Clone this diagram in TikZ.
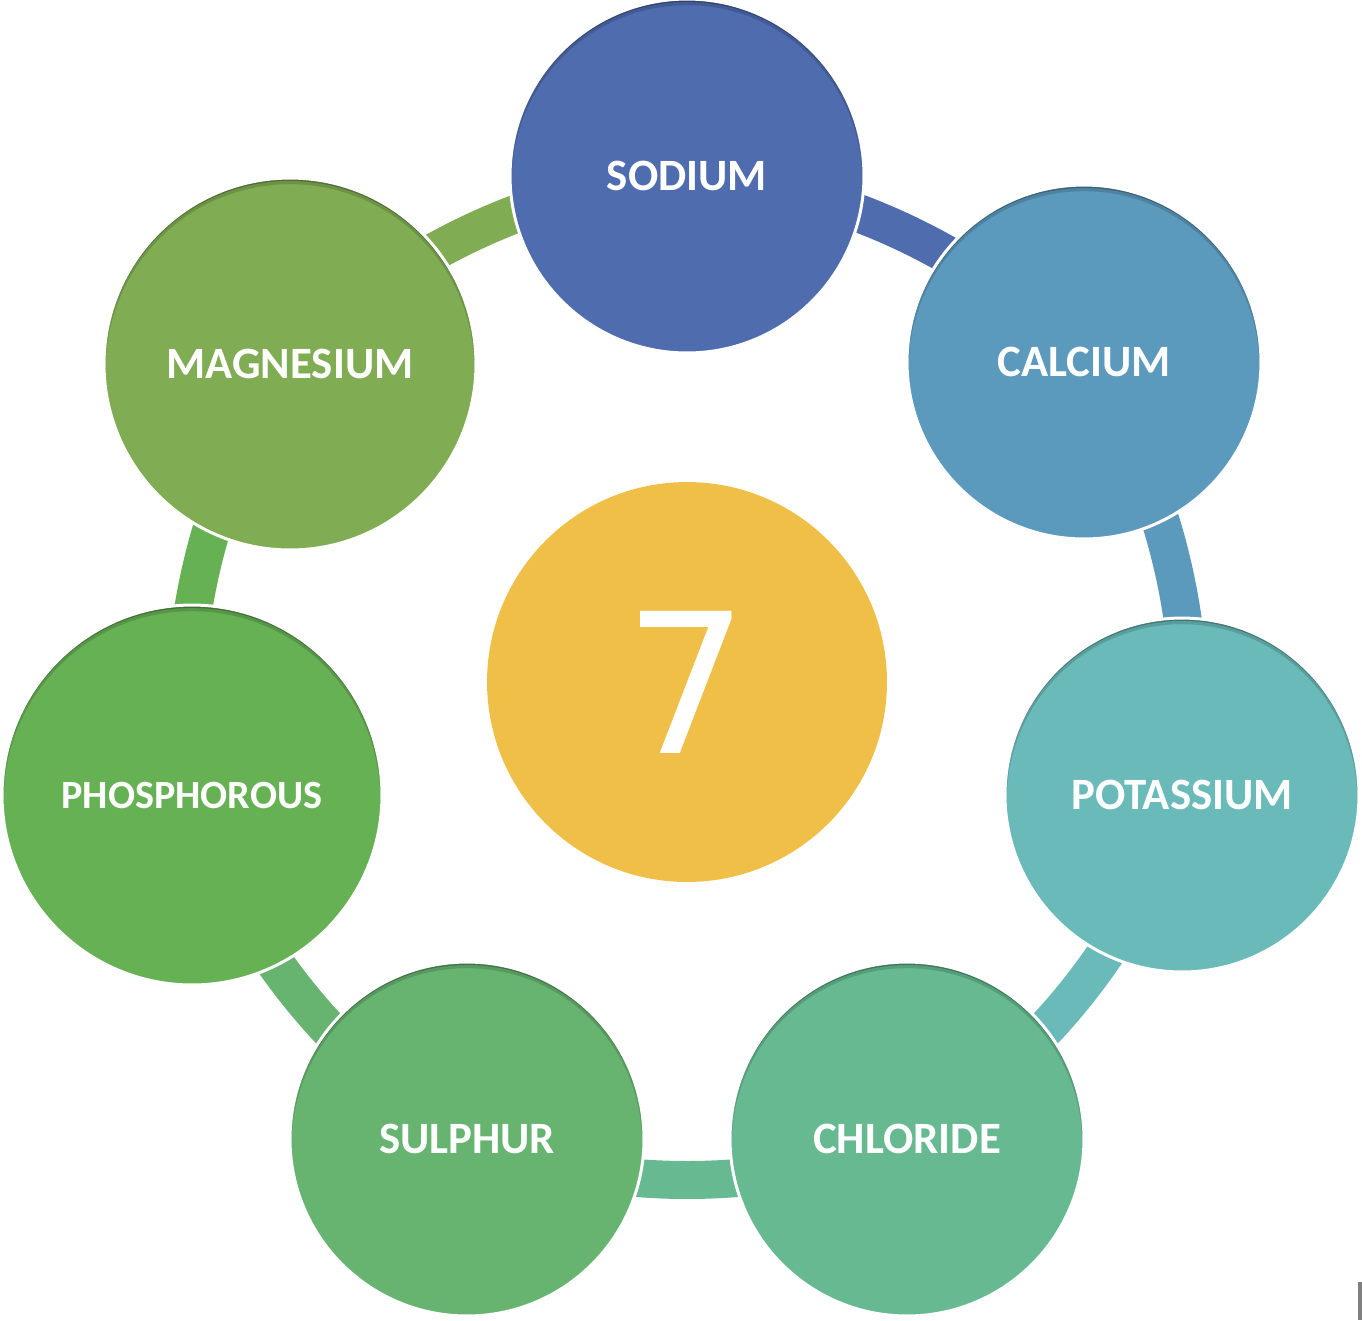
\documentclass[tikz,border=0pt]{standalone}
\usepackage{fontspec}
\setmainfont{Carlito}
\newfontfamily\hubfont{DejaVu Sans}
\usetikzlibrary{backgrounds,calc}
\definecolor{elSodium}{HTML}{4F6CAF}
\definecolor{elCalcium}{HTML}{5B9ABD}
\definecolor{elPotassium}{HTML}{69BAB8}
\definecolor{elChloride}{HTML}{66B990}
\definecolor{elSulphur}{HTML}{67B470}
\definecolor{elPhosphorous}{HTML}{67B155}
\definecolor{elMagnesium}{HTML}{80AC53}
\definecolor{elHub}{HTML}{EFBF48}
\definecolor{elMark}{HTML}{808080}
\tikzset{
    every picture/.style={x=0.02cm, y=-0.02cm},
    % element circles with a soft inner shadow on top
    element/.style={circle, draw=white, line width=1.7pt, minimum size=7.08cm, inner sep=0pt,
        text=white, font=\bfseries\fontsize{25.5}{30}\selectfont,
        path picture={
            \draw[black, opacity=0.15, line width=4pt] let \p1=(path picture bounding box.north), \p2=(path picture bounding box.center) in ([yshift=-2.5pt]\p2) circle[radius={\y1-\y2+1pt}];
            \draw[black, opacity=0.25, line width=1.5pt] let \p1=(path picture bounding box.north), \p2=(path picture bounding box.center) in ([yshift=-1.2pt]\p2) circle[radius={\y1-\y2+0.3pt}];
        }},
    hub/.style={circle, fill=elHub, minimum size=8cm, inner sep=0pt, text=white, font=\hubfont\fontsize{111}{113}\selectfont},
    link/.style={line width=0.76cm, bend left=22, looseness=0.85}
}
\begin{document}
\begin{tikzpicture}
    \useasboundingbox (0,0) rectangle (1362,1320);

    % Centre
    \node[hub] (hub) at (687,682) {7};

    % Seven elements round the ring
    \node[element, fill=elSodium] (sodium) at (687,176) {SODIUM};
    \node[element, fill=elCalcium] (calcium) at (1084,362) {CALCIUM};
    \node[element, fill=elPotassium] (potassium) at (1182,795) {POTASSIUM};
    \node[element, fill=elChloride] (chloride) at (907,1139) {CHLORIDE};
    \node[element, fill=elSulphur] (sulphur) at (467,1139) {SULPHUR};
    \node[element, fill=elPhosphorous, minimum size=7.6cm, font=\bfseries\fontsize{22.8}{27}\selectfont] (phosphorous) at (192,795) {PHOSPHOROUS};
    \node[element, fill=elMagnesium, minimum size=7.44cm] (magnesium) at (290,364) {MAGNESIUM};

    % Ring links behind the circles
    \begin{scope}[on background layer]
        \draw[link, elSodium] (sodium.center) to (calcium.center);
        \draw[link, elCalcium] (calcium.center) to (potassium.center);
        \draw[link, elPotassium] (potassium.center) to (chloride.center);
        \draw[link, elChloride] (chloride.center) to (sulphur.center);
        \draw[link, elSulphur] (sulphur.center) to (phosphorous.center);
        \draw[link, elPhosphorous] (phosphorous.center) to (magnesium.center);
        \draw[link, elMagnesium] (magnesium.center) to (sodium.center);
    \end{scope}

    % Edge mark
    \fill[elMark] (1358,1282) rectangle (1362,1320);
\end{tikzpicture}
\end{document}
